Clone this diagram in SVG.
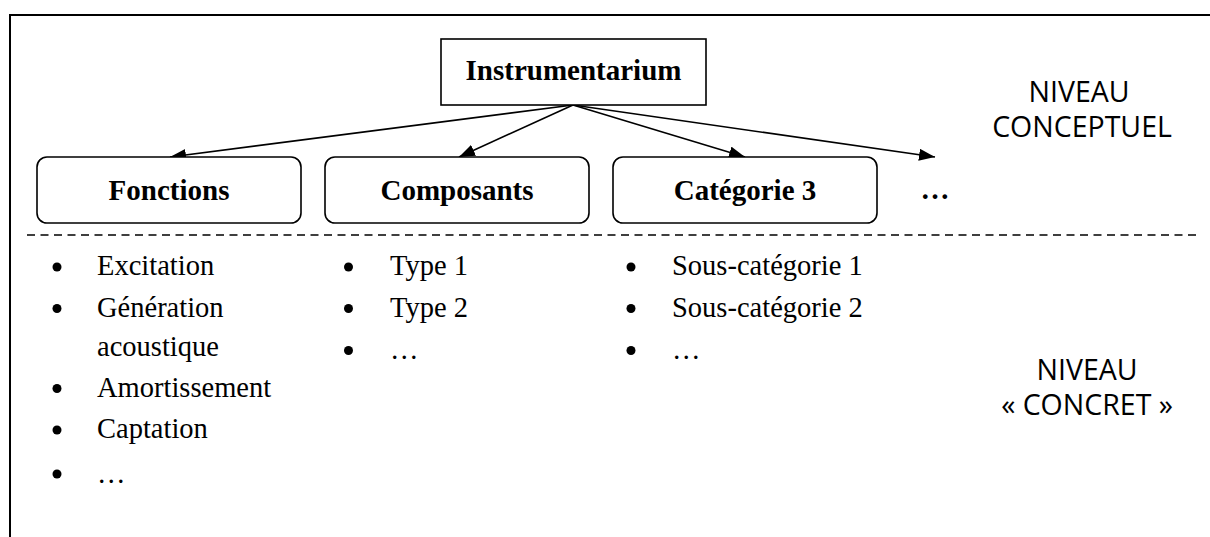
<svg xmlns="http://www.w3.org/2000/svg" width="1210" height="537" viewBox="0 0 1210 537">
<style>
.frame{fill:none;stroke:#000;stroke-width:2}
.box{fill:#fff;stroke:#000;stroke-width:1.6}
.b{font-family:"Liberation Serif","Times New Roman",serif;font-weight:bold;font-size:29px;fill:#000}
.t{font-family:"Liberation Serif","Times New Roman",serif;font-size:28.5px;fill:#000}
.s{font-family:"Open Sans","DejaVu Sans",sans-serif;font-size:28.5px;fill:#000;text-anchor:middle}
.c{stroke:#000;stroke-width:1.6;fill:none;marker-end:url(#ah)}
.dash{stroke:#000;stroke-width:1.4;stroke-dasharray:8 5.5;fill:none}
.dot{fill:#000}
</style>
<defs>
<marker id="ah" viewBox="0 0 16 12" refX="16" refY="6" markerWidth="16" markerHeight="12" markerUnits="userSpaceOnUse" orient="auto">
<path d="M0,0 L16,6 L0,12 Z" fill="#000"/>
</marker>
</defs>
<rect width="1210" height="537" fill="#fff"/>
<path class="frame" d="M10,537 V15 H1210"/>
<g id="connectors">
<line class="c" x1="573" y1="105" x2="170" y2="157"/>
<line class="c" x1="573" y1="105" x2="459" y2="157"/>
<line class="c" x1="573" y1="105" x2="745" y2="157"/>
<line class="c" x1="573" y1="105" x2="935" y2="157"/>
</g>
<g id="instrumentarium">
<rect class="box" x="441" y="39" width="265" height="66"/>
<text class="b" x="573.5" y="80" text-anchor="middle">Instrumentarium</text>
</g>
<g id="fonctions">
<rect class="box" x="37" y="157" width="264" height="66" rx="10"/>
<text class="b" x="169" y="200" text-anchor="middle">Fonctions</text>
</g>
<g id="composants">
<rect class="box" x="325" y="157" width="264" height="66" rx="10"/>
<text class="b" x="457" y="200" text-anchor="middle">Composants</text>
</g>
<g id="categorie3">
<rect class="box" x="613" y="157" width="264" height="66" rx="10"/>
<text class="b" x="745" y="200" text-anchor="middle">Catégorie 3</text>
</g>
<g id="etc">
<text class="b" x="935" y="199" text-anchor="middle">…</text>
</g>
<line class="dash" x1="27" y1="235" x2="1197" y2="235"/>
<g id="niveau-conceptuel">
<text class="s" x="1079" y="102">NIVEAU</text>
<text class="s" x="1082" y="137">CONCEPTUEL</text>
</g>
<g id="niveau-concret">
<text class="s" x="1087" y="380">NIVEAU</text>
<text class="s" x="1087" y="415">« CONCRET »</text>
</g>
<g id="liste-fonctions">
<circle class="dot" cx="57" cy="267" r="4.5"/>
<text class="t" x="97" y="275">Excitation</text>
<circle class="dot" cx="57" cy="308.5" r="4.5"/>
<text class="t" x="97" y="316.5">Génération</text>
<text class="t" x="97" y="355.5">acoustique</text>
<circle class="dot" cx="57" cy="388.5" r="4.5"/>
<text class="t" x="97" y="396.5">Amortissement</text>
<circle class="dot" cx="57" cy="430" r="4.5"/>
<text class="t" x="97" y="438">Captation</text>
<circle class="dot" cx="57" cy="474" r="4.5"/>
<text class="t" x="97" y="483">…</text>
</g>
<g id="liste-composants">
<circle class="dot" cx="348.5" cy="267" r="4.5"/>
<text class="t" x="390" y="275">Type 1</text>
<circle class="dot" cx="348.5" cy="308.5" r="4.5"/>
<text class="t" x="390" y="316.5">Type 2</text>
<circle class="dot" cx="348.5" cy="350.5" r="4.5"/>
<text class="t" x="390" y="359">…</text>
</g>
<g id="liste-categorie3">
<circle class="dot" cx="631" cy="267" r="4.5"/>
<text class="t" x="672" y="275">Sous-catégorie 1</text>
<circle class="dot" cx="631" cy="308.5" r="4.5"/>
<text class="t" x="672" y="316.5">Sous-catégorie 2</text>
<circle class="dot" cx="631" cy="350.5" r="4.5"/>
<text class="t" x="672" y="359">…</text>
</g>
</svg>
